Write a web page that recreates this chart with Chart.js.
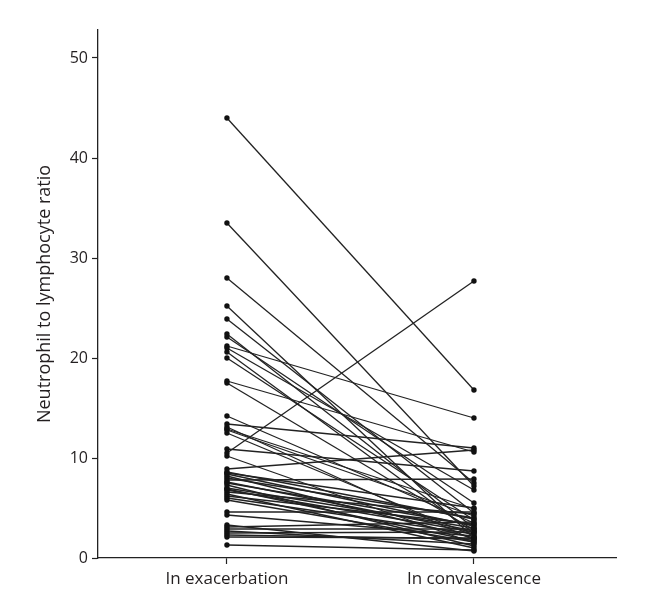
<!DOCTYPE html>
<html>
<head>
<meta charset="utf-8">
<script src="https://cdn.jsdelivr.net/npm/chart.js@4/dist/chart.umd.min.js"></script>
<style>
  html, body { margin: 0; padding: 0; background: #fff; }
  #wrap { width: 659px; height: 606px; }
</style>
</head>
<body>
<div id="wrap"><canvas id="nlr" width="659" height="606"></canvas></div>
<script>
const categories = ['In exacerbation', 'In convalescence'];
const yTicks = [0, 10, 20, 30, 40, 50];

// paired values, one patient per index
const exacerbation = [
  44.0, 33.5, 28.0, 25.2, 23.9, 22.4, 22.1, 21.2, 21.0, 20.6,
  20.0, 17.7, 17.5, 14.2, 13.4, 13.1, 12.8, 12.5, 10.9, 10.5,
  10.2, 8.9, 8.6, 8.4, 8.2, 8.0, 7.8, 7.6, 7.3, 7.0,
  6.8, 6.6, 6.4, 6.2, 6.0, 5.8, 4.6, 4.3, 3.3, 3.1,
  2.9, 2.7, 2.5, 2.3, 2.1, 1.3, 8.5, 7.5, 6.9, 12.9
];
const convalescence = [
  16.8, 7.2, 7.5, 2.0, 4.5, 3.0, 5.5, 14.0, 6.8, 2.5,
  3.8, 10.6, 2.8, 3.5, 11.0, 1.8, 4.2, 2.2, 8.7, 27.7,
  1.5, 10.8, 3.9, 3.2, 2.0, 4.0, 7.9, 2.7, 1.2, 3.0,
  2.6, 4.4, 1.0, 3.4, 2.4, 1.6, 4.6, 2.2, 0.7, 3.6,
  2.9, 1.4, 2.6, 1.9, 2.0, 0.8, 5.0, 3.3, 1.7, 4.9
];

const textColor = '#231f20';
const family = "'Open Sans', 'Noto Sans', sans-serif";

const datasets = exacerbation.map((v, i) => ({
  data: [{ x: 1, y: v }, { x: 2, y: convalescence[i] }],
  borderColor: '#222',
  borderWidth: 1.3,
  pointRadius: 2.7,
  pointBackgroundColor: '#111',
  pointBorderWidth: 0,
  showLine: true,
  tension: 0
}));

new Chart(document.getElementById('nlr'), {
  type: 'scatter',
  data: { datasets },
  options: {
    responsive: false,
    animation: false,
    layout: { padding: { left: 0, right: 43, top: 30, bottom: 0 } },
    plugins: { legend: { display: false }, tooltip: { enabled: false } },
    scales: {
      x: {
        type: 'linear',
        min: 0.478,
        max: 2.575,
        afterBuildTicks: s => { s.ticks = [{ value: 1 }, { value: 2 }]; },
        afterFit: s => { s.height = 48; },
        ticks: {
          callback: v => categories[v - 1],
          color: textColor,
          font: { family, size: 17 },
          padding: 5,
          maxRotation: 0
        },
        grid: { drawOnChartArea: false, tickLength: 6, tickColor: '#222', tickWidth: 1.2 },
        border: { color: '#222', width: 1.3 }
      },
      y: {
        min: 0,
        max: 52.8,
        afterBuildTicks: s => { s.ticks = yTicks.map(v => ({ value: v })); },
        afterFit: s => { s.width = 98; },
        ticks: { color: textColor, font: { family, size: 16 }, padding: 4 },
        grid: { drawOnChartArea: false, tickLength: 6, tickColor: '#222', tickWidth: 1.2 },
        border: { color: '#222', width: 1.3 },
        title: {
          display: true,
          text: 'Neutrophil to lymphocyte ratio',
          color: textColor,
          font: { family, size: 18 },
          padding: { top: 34, bottom: 0 }
        }
      }
    }
  }
});
</script>
</body>
</html>
